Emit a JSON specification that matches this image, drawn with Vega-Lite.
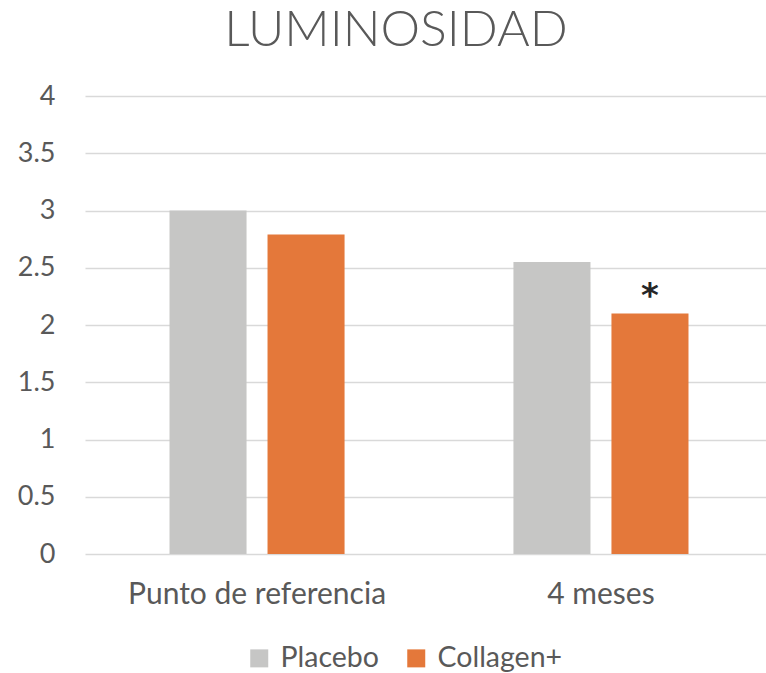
{
  "$schema": "https://vega.github.io/schema/vega-lite/v6.json",
  "autosize": "none",
  "width": 688,
  "height": 458,
  "padding": {"left": 85, "top": 96, "right": 0, "bottom": 119},
  "background": "white",
  "title": {
    "text": "LUMINOSIDAD",
    "font": "Lato",
    "fontWeight": 300,
    "fontSize": 50,
    "color": "#595959",
    "anchor": "start",
    "dx": 207,
    "offset": 26
  },
  "config": {
    "view": {"stroke": null},
    "font": "Lato"
  },
  "data": {
    "values": [
      {"tiempo": "Punto de referencia", "grupo": "Placebo", "valor": 3.0, "marca": ""},
      {"tiempo": "Punto de referencia", "grupo": "Collagen+", "valor": 2.79, "marca": ""},
      {"tiempo": "4 meses", "grupo": "Placebo", "valor": 2.55, "marca": ""},
      {"tiempo": "4 meses", "grupo": "Collagen+", "valor": 2.1, "marca": "*"}
    ]
  },
  "encoding": {
    "x": {
      "field": "tiempo",
      "type": "nominal",
      "sort": ["Punto de referencia", "4 meses"],
      "scale": {"paddingInner": 0.491, "paddingOuter": 0.2457},
      "axis": {
        "title": null,
        "labelAngle": 0,
        "domain": false,
        "ticks": false,
        "labelFontSize": 30,
        "labelColor": "#595959",
        "labelPadding": 25,
        "labelLimit": 400,
        "labelFont": "Lato"
      }
    },
    "xOffset": {
      "field": "grupo",
      "type": "nominal",
      "sort": ["Placebo", "Collagen+"],
      "scale": {"paddingInner": 0.214, "paddingOuter": 0}
    },
    "y": {
      "field": "valor",
      "type": "quantitative",
      "scale": {"domain": [0, 4], "nice": false},
      "axis": {
        "title": null,
        "values": [0, 0.5, 1, 1.5, 2, 2.5, 3, 3.5, 4],
        "format": "~g",
        "domain": false,
        "ticks": false,
        "labelFontSize": 27,
        "labelColor": "#595959",
        "labelPadding": 30,
        "labelFont": "Lato",
        "gridColor": "#D9D9D9",
        "gridWidth": 1.5
      }
    }
  },
  "layer": [
    {
      "mark": {"type": "bar"},
      "encoding": {
        "color": {
          "field": "grupo",
          "type": "nominal",
          "sort": ["Placebo", "Collagen+"],
          "scale": {"domain": ["Placebo", "Collagen+"], "range": ["#C6C6C5", "#E4783A"]},
          "legend": {
            "title": null,
            "orient": "none",
            "direction": "horizontal",
            "legendX": 160,
            "legendY": 548,
            "symbolType": "square",
            "symbolSize": 324,
            "symbolStrokeWidth": 0,
            "labelFontSize": 28.5,
            "labelColor": "#595959",
            "labelFont": "Lato",
            "labelOffset": 7,
            "columnPadding": 23
          }
        }
      }
    },
    {
      "mark": {"type": "text", "dy": -17, "fontSize": 34, "fontWeight": "bold", "color": "#262626", "font": "DejaVu Sans"},
      "encoding": {
        "text": {"field": "marca"}
      }
    }
  ]
}
